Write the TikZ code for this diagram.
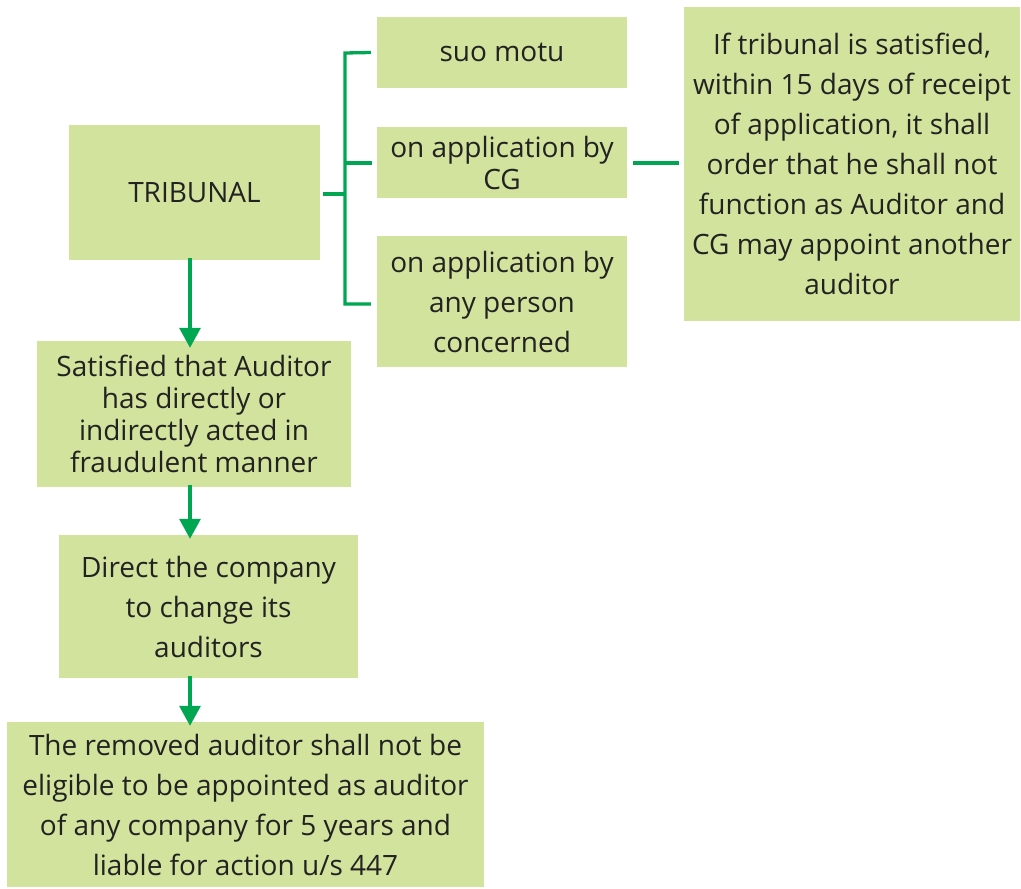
\documentclass[tikz,border=0pt]{standalone}
\usepackage{fontspec}
\setmainfont{Open Sans}
\usetikzlibrary{arrows.meta}
\definecolor{boxfill}{HTML}{D1E39C}
\definecolor{linkgreen}{HTML}{00A651}
\definecolor{inktext}{HTML}{222222}
\tikzset{
  box/.style={fill=boxfill, draw=none, inner sep=0pt, align=center,
    text=inktext, font=\fontsize{28}{40}\selectfont},
  tightbox/.style={box, font=\fontsize{28}{32}\selectfont},
  link/.style={draw=linkgreen, line width=3.3pt},
  flow/.style={link, -{Triangle[width=21pt,length=20pt]}},
}
\begin{document}
\begin{tikzpicture}[x=1pt,y=-1pt]
  \useasboundingbox (0,0) rectangle (1021,889);
  % boxes
  \node[box, minimum width=251pt, minimum height=135pt] (trib) at (194.5,192.5) {TRIBUNAL};
  \node[box, minimum width=250pt, minimum height=71pt] (suo) at (502,52.5) {suo motu};
  \node[tightbox, minimum width=250pt, minimum height=71pt] (cg) at (502,162.5) {on application by\\CG};
  \node[box, minimum width=250pt, minimum height=131pt] (any) at (502,301.5) {on application by\\any person\\concerned};
  \node[box, minimum width=336pt, minimum height=314pt] (res) at (852,164) {If tribunal is satisfied,\\within 15 days of receipt\\of application, it shall\\order that he shall not\\function as Auditor and\\CG may appoint another\\auditor};
  \node[tightbox, minimum width=314pt, minimum height=146pt] (sat) at (194,414) {Satisfied that Auditor\\has directly or\\indirectly acted in\\fraudulent manner};
  \node[box, minimum width=299pt, minimum height=143pt] (dir) at (208.5,606.5) {Direct the company\\to change its\\auditors};
  \node[box, minimum width=477pt, minimum height=165pt] (rem) at (245.5,804.5) {The removed auditor shall not be\\eligible to be appointed as auditor\\of any company for 5 years and\\liable for action u/s 447};
  % bracket from the tribunal to the three modes
  \coordinate (spine) at (345,194);
  \draw[link] ([xshift=3pt]trib.east |- spine) -- (spine);
  \draw[link] ([xshift=-6pt]suo.west) -- (345,53) -- (345,304) -- ([xshift=-6pt]any.west |- 0,304);
  \draw[link] (345,163) -- ([xshift=-5pt]cg.west |- 0,163);
  \draw[link] ([xshift=6pt]cg.east |- 0,163) -- ([xshift=-5pt]res.west |- 0,163);
  % downward flow
  \draw[flow] ([yshift=2pt]trib.south -| 190,0) -- ([yshift=-7pt]sat.north -| 190,0);
  \draw[flow] ([yshift=2pt]sat.south -| 190,0) -- ([yshift=-4pt]dir.north -| 190,0);
  \draw[flow] ([yshift=2pt]dir.south -| 190,0) -- ([yshift=-4pt]rem.north -| 190,0);
\end{tikzpicture}
\end{document}
